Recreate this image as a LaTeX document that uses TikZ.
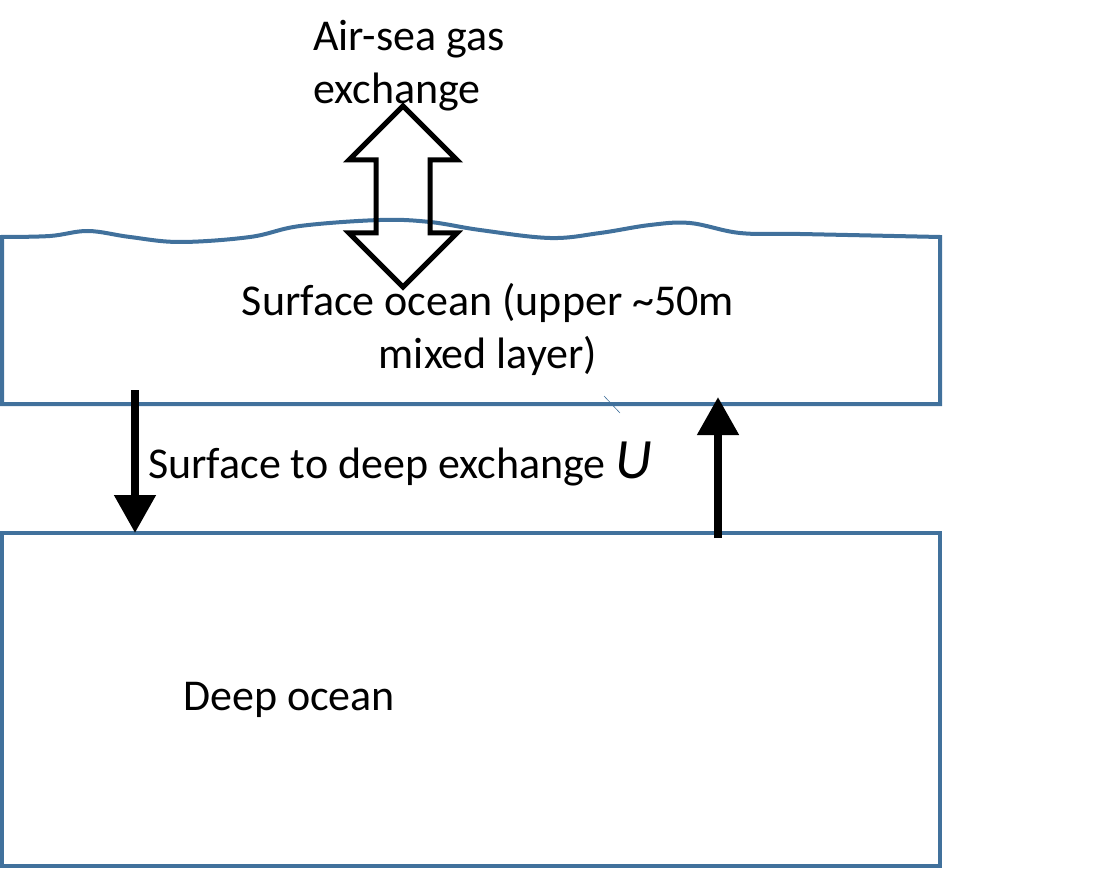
\documentclass[tikz,border=0pt]{standalone}
\usepackage{fontspec}
\setmainfont{Carlito}
\usetikzlibrary{arrows.meta}
\definecolor{oceanblue}{RGB}{65,113,156}
\tikzset{
  layerline/.style={draw=oceanblue, line width=4pt, line join=miter},
  flux/.style={line width=8pt, -{Triangle[length=38pt,width=40pt]}},
  label/.style={inner sep=0pt, font=\fontsize{44}{53}\selectfont},
}
\begin{document}
\begin{tikzpicture}[x=1pt, y=-1pt]
  \useasboundingbox (0,0) rectangle (1119,893);
  % surface ocean box, wavy top
  \draw[layerline]
    plot[smooth, tension=0.6] coordinates {(2,237) (50,236) (88,231) (130,237) (180,242)
      (250,237) (300,226) (380,220) (430,222) (480,230) (550,238) (600,233) (650,225)
      (690,223) (740,233) (800,234) (940,237)}
    -- (940,404) -- (2,404) -- cycle;
  \draw[oceanblue, line width=0.6pt] (604,396) -- (620,413);
  % deep ocean box
  \draw[layerline] (2,533) rectangle (940,866);
  % air-sea double arrow
  \draw[line width=5pt, line join=miter]
    (403,106) -- (457,160) -- (430,160) -- (430,233) -- (457,233) -- (403,287)
    -- (349,233) -- (376,233) -- (376,160) -- (349,160) -- cycle;
  % exchange arrows
  \coordinate (down-top) at (135,390);
  \coordinate (down-tip) at (135,533);
  \coordinate (up-foot) at (718,538);
  \coordinate (up-tip) at (718,397);
  \draw[flux] (down-top) -- (down-tip);
  \draw[flux] (up-foot) -- (up-tip);
  % labels
  \node[label, anchor=base west, align=left] (airsea) at (313,104) {Air-sea gas\\exchange};
  \node[label, anchor=base, align=center] (surface) at (488,368) {Surface ocean (upper \textasciitilde50m\\mixed layer)};
  \node[label, anchor=base west] (udeep) at (148,478) {Surface to deep exchange {\fontsize{57}{60}\selectfont\itshape U}};
  \node[label, anchor=base west] (deep) at (183,710) {Deep ocean};
\end{tikzpicture}
\end{document}
